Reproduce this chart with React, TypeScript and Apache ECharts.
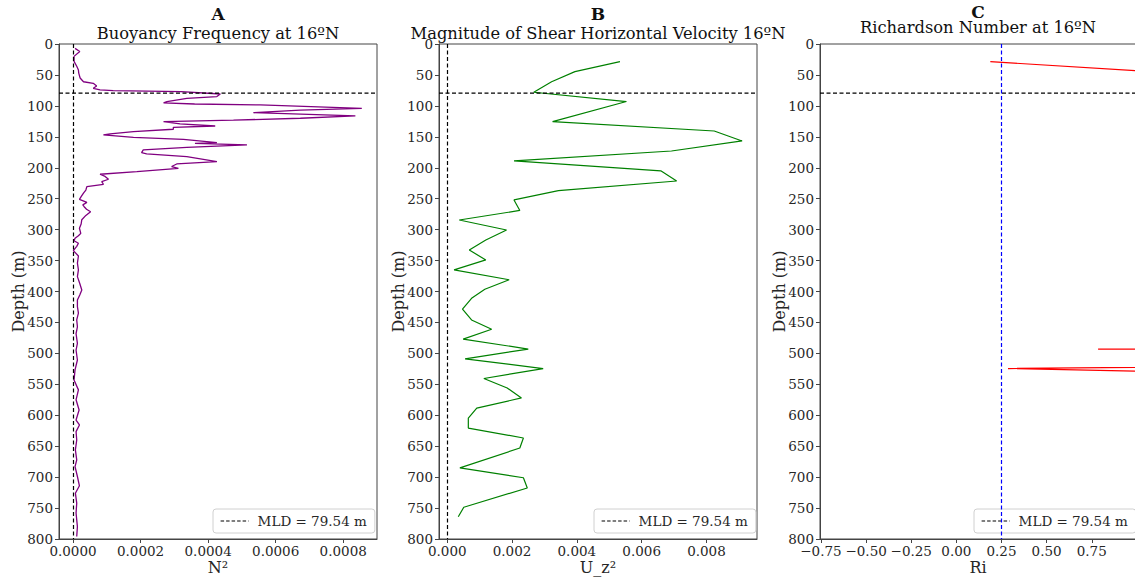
import React, { useEffect, useRef } from "react";
import * as echarts from "echarts";

// Panel A: buoyancy frequency N² (s⁻²) vs depth (m)
const depthN2 = [
  7, 12, 20, 28, 36, 42, 47, 55, 61, 63.5, 67.8, 71.6, 74, 75.4, 77, 80.8, 85, 88, 93.2, 95,
  97, 98.5, 104, 107, 111, 116.3, 120, 123, 125.5, 129, 132.5, 134.7, 137.8, 141.7, 145.4, 147,
  151, 154, 157.8, 159.4, 160.5, 163, 167, 171, 175.6, 177.7, 182, 190, 193.9, 198, 200.9, 206.3,
  210.5, 214, 218.6, 222.5, 226.7, 230.5, 236, 241, 246, 251, 256, 260, 263, 267, 271, 277, 284,
  291, 297.8, 306, 310, 314, 318, 322, 327, 334, 342.6, 354, 365, 376, 387, 397.5, 405.5, 413.7,
  424.5, 435, 446, 457, 468, 483.8, 494.6, 510.7, 526.8, 543, 559, 575, 591.5, 607.7, 615.7,
  626.5, 640, 656, 672, 683, 699, 714, 726, 742, 758, 780, 796,
];
const n2 = [
  0.6e-5, 2.0e-5, 0.3e-5, 0.3e-5, 1.1e-5, 1.6e-5, 1.7e-5, 2.1e-5, 3.1e-5, 6.0e-5, 7.0e-5, 6.0e-5,
  8.0e-5, 1.19e-4, 3.2e-4, 4.36e-4, 4.26e-4, 3.37e-4, 2.78e-4, 2.68e-4, 3.6e-4, 5.54e-4, 8.55e-4,
  6.73e-4, 5.34e-4, 8.36e-4, 6.73e-4, 4.75e-4, 2.68e-4, 3.17e-4, 4.21e-4, 2.97e-4, 2.97e-4,
  1.79e-4, 1.1e-4, 0.9e-4, 1.79e-4, 3.27e-4, 3.96e-4, 4.26e-4, 3.61e-4, 5.15e-4, 3.37e-4,
  2.08e-4, 2.03e-4, 2.18e-4, 3.37e-4, 4.26e-4, 3.07e-4, 2.92e-4, 3.12e-4, 1.89e-4, 0.8e-4,
  0.95e-4, 1.05e-4, 0.85e-4, 0.9e-4, 4.1e-5, 3.8e-5, 3.1e-5, 2.5e-5, 1.9e-5, 4.1e-5, 2.9e-5,
  3.3e-5, 4.0e-5, 5.2e-5, 3.8e-5, 2.6e-5, 2.4e-5, 1.9e-5, 2.3e-5, 1.6e-5, 0.6e-5, 0.3e-5,
  1.6e-5, 1.1e-5, 0.1e-5, 1.6e-5, 1.3e-5, 1.6e-5, 1.3e-5, 2.0e-5, 2.6e-5, 2.0e-5, 1.3e-5,
  1.3e-5, 1.6e-5, 1.1e-5, 1.3e-5, 0.9e-5, 1.3e-5, 0.9e-5, 1.3e-5, 0.6e-5, 0.3e-5, 1.6e-5,
  0.9e-5, 1.8e-5, 0.9e-5, 1.9e-5, 0.9e-5, 1.1e-5, 0.7e-5, 1.1e-5, 0.6e-5, 1.3e-5, 1.9e-5,
  0.7e-5, 1.1e-5, 0.9e-5, 1.3e-5, 1.1e-5,
];

// Panel B: squared shear of horizontal velocity vs depth
const depthShear = [
  28.5, 44.7, 60.9, 78, 93, 125.5, 140.6, 156.7, 172.9, 189, 205, 221.4, 237, 252, 269, 284.4,
  300.6, 316.7, 333, 349, 365, 381, 396.4, 411, 428.5, 446, 461, 477, 493, 509, 524.5, 540.6,
  556, 572, 588.5, 604.6, 620.7, 636.8, 653, 685, 701, 717.5, 748.7, 764,
];
const shear = [
  5.33e-3, 3.94e-3, 3.22e-3, 2.67e-3, 5.53e-3, 3.25e-3, 8.24e-3, 9.1e-3, 6.92e-3, 2.06e-3,
  6.59e-3, 7.08e-3, 3.43e-3, 2.06e-3, 2.24e-3, 0.37e-3, 1.83e-3, 1.19e-3, 0.68e-3, 1.19e-3,
  0.21e-3, 1.91e-3, 1.16e-3, 0.75e-3, 0.47e-3, 0.75e-3, 1.37e-3, 0.49e-3, 2.5e-3, 0.55e-3,
  2.96e-3, 1.13e-3, 1.85e-3, 2.29e-3, 0.91e-3, 0.65e-3, 0.65e-3, 2.35e-3, 2.24e-3, 0.39e-3,
  2.35e-3, 2.47e-3, 0.51e-3, 0.34e-3,
];

// Panel C: Richardson number at the shear depths (most values lie beyond the axis)
const ri = [
  0.188, 1.08, 12, 25, 8, 15, 9, 6, 11, 30, 7, 5, 9, 4, 12, 20, 3, 6, 14, 8, 45, 4, 7, 10, 25,
  9, 3, 50, 0.785, 6, 0.286, 3, 8, 5, 18, 40, 35, 4, 6, 60, 5, 4, 30, 45,
];

const mld = 79.54;
const riCritical = 0.25;
const mldLabel = "MLD = 79.54 m";

const xTicksA = [0, 0.0002, 0.0004, 0.0006, 0.0008];
const xTicksB = [0, 0.002, 0.004, 0.006, 0.008];
const xTicksC = [-0.75, -0.5, -0.25, 0, 0.25, 0.5, 0.75];

const rangeA = [-0.0000415, 0.0009];
const rangeB = [-0.000255, 0.00956];
const rangeC = [-0.7555, 0.995];

const FONT = "DejaVu Serif";
const TXT = "#262626";
const SPINE = "#444";
const DASH = [4, 2.5];

export default function App() {
  const ref = useRef<HTMLDivElement>(null);

  useEffect(() => {
    if (!ref.current) return;
    const chart = echarts.init(ref.current, undefined, { renderer: "svg" });

    const grids = [
      { left: 59, top: 44, width: 318, height: 495 },
      { left: 439, top: 44, width: 318, height: 495 },
      { left: 820, top: 44, width: 316, height: 495 },
    ].map((g) => ({
      ...g,
      show: true,
      containLabel: false,
      outerBoundsMode: "none",
      borderColor: SPINE,
      borderWidth: 1,
      backgroundColor: "transparent",
    }));

    const yAxis = (gi: number) => ({
      type: "value",
      gridIndex: gi,
      inverse: true,
      min: 0,
      max: 800,
      interval: 50,
      name: "Depth (m)",
      nameLocation: "middle",
      nameGap: 33,
      nameMoveOverlap: false,
      nameRotate: 90,
      nameTextStyle: { fontFamily: FONT, fontSize: 16, color: TXT },
      axisLine: { show: true, onZero: false, lineStyle: { color: SPINE, width: 1 } },
      axisTick: { show: true, length: 4, lineStyle: { color: SPINE } },
      axisLabel: { fontFamily: FONT, fontSize: 13.5, color: TXT, margin: 6 },
      splitLine: { show: false },
    });

    const xAxis = (gi: number, range: number[], ticks: number[], name: string, fmt: (v: number) => string) => ({
      type: "value",
      gridIndex: gi,
      min: range[0],
      max: range[1],
      name,
      nameLocation: "middle",
      nameGap: 20,
      nameMoveOverlap: false,
      nameTextStyle: { fontFamily: FONT, fontSize: 16, color: TXT },
      axisLine: { show: true, onZero: false, lineStyle: { color: SPINE, width: 1 } },
      axisTick: { show: true, length: 4, customValues: ticks, lineStyle: { color: SPINE } },
      axisLabel: {
        fontFamily: FONT,
        fontSize: 13.5,
        color: TXT,
        margin: 5,
        customValues: ticks,
        formatter: (v: number) => fmt(v),
      },
      splitLine: { show: false },
    });

    const fmtC = (v: number) => (v < 0 ? "\u2212" : "") + Math.abs(v).toFixed(2);

    const mldSeries = (gi: number, range: number[]) => ({
      type: "line",
      name: mldLabel,
      xAxisIndex: gi,
      yAxisIndex: gi,
      data: [
        [range[0], mld],
        [range[1], mld],
      ],
      symbol: "none",
      itemStyle: { color: "#000" },
      lineStyle: { color: "#000", type: DASH, width: 1.2 },
      z: 3,
    });

    const vline = (x: number, color: string) => ({
      silent: true,
      symbol: "none",
      label: { show: false },
      lineStyle: { color, type: DASH, width: 1.2 },
      data: [{ xAxis: x }],
    });

    const legend = (left: number) => ({
      left,
      top: 509,
      data: [mldLabel],
      selectedMode: false,
      backgroundColor: "#fff",
      borderColor: "#d0d0d0",
      borderWidth: 1,
      borderRadius: 3,
      padding: [5, 8, 5, 7],
      itemWidth: 28,
      itemHeight: 10,
      itemStyle: { opacity: 0 },
      lineStyle: { color: "#000", type: [3.5, 2], width: 1.2 },
      textStyle: { fontFamily: FONT, fontSize: 13.5, color: TXT, padding: [0, 0, 0, 4] },
    });

    const titleStyle = (bold: boolean) => ({
      fontFamily: FONT,
      fontSize: bold ? 17 : 16.3,
      fontWeight: bold ? "bold" : "normal",
      color: "#111",
    });

    chart.setOption({
      animation: false,
      backgroundColor: "#fff",
      title: [
        { text: "A", left: 218, top: 5, textAlign: "center", padding: 0, textStyle: titleStyle(true) },
        { text: "Buoyancy Frequency at 16ºN", left: 218, top: 25, textAlign: "center", padding: 0, textStyle: titleStyle(false) },
        { text: "B", left: 598, top: 5, textAlign: "center", padding: 0, textStyle: titleStyle(true) },
        { text: "Magnitude of Shear Horizontal Velocity 16ºN", left: 598, top: 25, textAlign: "center", padding: 0, textStyle: titleStyle(false) },
        { text: "C", left: 978, top: 3, textAlign: "center", padding: 0, textStyle: titleStyle(true) },
        { text: "Richardson Number at 16ºN", left: 978, top: 19, textAlign: "center", padding: 0, textStyle: titleStyle(false) },
      ],
      grid: grids,
      xAxis: [
        xAxis(0, rangeA, xTicksA, "N²", (v) => v.toFixed(4)),
        xAxis(1, rangeB, xTicksB, "U_z²", (v) => v.toFixed(3)),
        xAxis(2, rangeC, xTicksC, "Ri", fmtC),
      ],
      yAxis: [yAxis(0), yAxis(1), yAxis(2)],
      legend: [legend(213), legend(594), legend(974)],
      series: [
        {
          type: "line",
          name: "N2",
          xAxisIndex: 0,
          yAxisIndex: 0,
          data: depthN2.map((d, i) => [n2[i], d]),
          symbol: "none",
          lineStyle: { color: "#800080", width: 1.3 },
          clip: true,
          markLine: vline(0, "#000"),
        },
        mldSeries(0, rangeA),
        {
          type: "line",
          name: "Shear",
          xAxisIndex: 1,
          yAxisIndex: 1,
          data: depthShear.map((d, i) => [shear[i], d]),
          symbol: "none",
          lineStyle: { color: "#008000", width: 1.2 },
          clip: true,
          markLine: vline(0, "#000"),
        },
        mldSeries(1, rangeB),
        {
          type: "line",
          name: "Ri",
          xAxisIndex: 2,
          yAxisIndex: 2,
          data: depthShear.map((d, i) => [ri[i], d]),
          symbol: "none",
          lineStyle: { color: "#ff0000", width: 1.2 },
          clip: true,
          markLine: vline(riCritical, "#0000ff"),
        },
        mldSeries(2, rangeC),
      ],
    });

    return () => chart.dispose();
  }, []);

  return (
    <div
      ref={ref}
      style={{ position: "fixed", left: 0, top: 0, width: 1135, height: 578, background: "#fff" }}
    />
  );
}
